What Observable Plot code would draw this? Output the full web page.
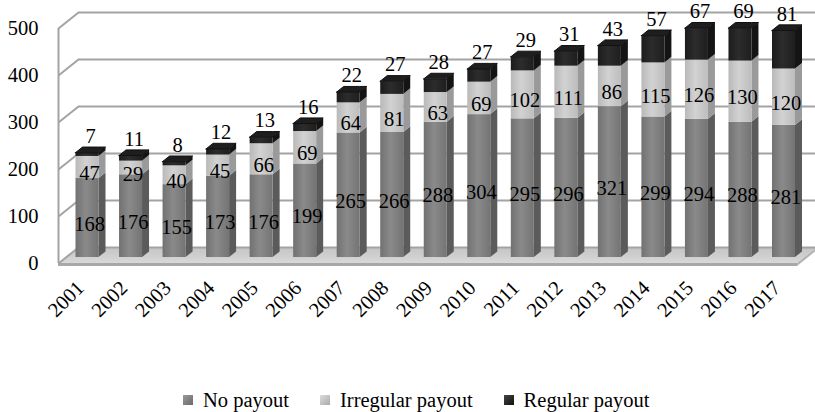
<!DOCTYPE html>
<html>
<head>
<meta charset="utf-8">
<script src="https://cdn.jsdelivr.net/npm/d3@7"></script>
<script src="https://cdn.jsdelivr.net/npm/@observablehq/plot@0.6"></script>
<style>
  html, body { margin: 0; padding: 0; background: #fff; }
  body { width: 815px; height: 412px; overflow: hidden; font-family: "Liberation Serif", "Times New Roman", serif; }
  #legend { height: 24px; line-height: 24px; font-size: 20.5px; color: #000; display: flex; align-items: center; padding-left: 183px; }
  #legend .item { display: flex; align-items: center; margin-right: 31px; }
  #legend .sw { width: 10px; height: 10px; margin-right: 10px; box-sizing: border-box; }
</style>
</head>
<body>
<div id="chart"></div>
<div id="legend"></div>
<script>
// ---- data ----
const years = [2001, 2002, 2003, 2004, 2005, 2006, 2007, 2008, 2009, 2010, 2011, 2012, 2013, 2014, 2015, 2016, 2017];
const noPayout = [168, 176, 155, 173, 176, 199, 265, 266, 288, 304, 295, 296, 321, 299, 294, 288, 281];
const irregularPayout = [47, 29, 40, 45, 66, 69, 64, 81, 63, 69, 102, 111, 86, 115, 126, 130, 120];
const regularPayout = [7, 11, 8, 12, 13, 16, 22, 27, 28, 27, 29, 31, 43, 57, 67, 69, 81];
const seriesNames = ["No payout", "Irregular payout", "Regular payout"];
const yTicks = [0, 100, 200, 300, 400, 500];

// ---- styling ----
const face = {"No payout": "url(#gNo)", "Irregular payout": "url(#gIrr)", "Regular payout": "url(#gReg)"};
const side = {"No payout": "#5b5b5b", "Irregular payout": "#9a9a9a", "Regular payout": "#141414"};

const W = 815, H = 388;
const xRange = [43.47, 827.03], xDomain = [2000, 2018];
const yRange = [257, 22], yDomain = [0, 500];
const pxX = (xRange[1] - xRange[0]) / (xDomain[1] - xDomain[0]);
const pxY = (yRange[0] - yRange[1]) / (yDomain[1] - yDomain[0]);
const px2yr = p => p / pxX;
const px2v = p => p / pxY;

const hw = px2yr(11.5);      // half width of bar face
const dX = px2yr(7);         // bar depth (x)
const dV = px2v(5.6);        // bar depth (y)
const F0 = years[0] - px2yr(29);
const F1 = years[years.length - 1] + px2yr(13.5);
const D = px2yr(20);         // wall depth (x)
const fV = px2v(-6);         // front floor level
const bV = px2v(10);         // back wall level

// build stacked segments
const values = [noPayout, irregularPayout, regularPayout];
const segs = [];
years.forEach((yr, i) => {
  let acc = 0;
  seriesNames.forEach((s, k) => {
    const v = values[k][i];
    segs.push({year: yr, series: s, value: v, y0: acc, y1: acc + v, id: yr + s});
    acc += v;
  });
});
const totals = years.map((yr, i) => ({year: yr, total: noPayout[i] + irregularPayout[i] + regularPayout[i], reg: regularPayout[i]}));

// side faces
const sidePts = segs.flatMap(d => [
  {id: d.id, series: d.series, x: d.year + hw, y1: d.y0, y2: d.y1},
  {id: d.id, series: d.series, x: d.year + hw + dX, y1: d.y0 + dV, y2: d.y1 + dV}
]);
// top caps
const capPts = totals.flatMap(d => [
  {id: d.year, x: d.year - hw, y1: d.total, y2: d.total},
  {id: d.year, x: d.year - hw + dX, y1: d.total, y2: d.total + dV},
  {id: d.year, x: d.year + hw, y1: d.total, y2: d.total + dV},
  {id: d.year, x: d.year + hw + dX, y1: d.total + dV, y2: d.total + dV}
]);
// floor
const floorPts = [
  {x: F0, y1: fV, y2: fV},
  {x: F0 + D, y1: fV, y2: bV},
  {x: F1, y1: fV, y2: bV},
  {x: F1 + D, y1: bV, y2: bV}
];
const floorEdge = [
  {x: F1, y1: fV - px2v(3), y2: fV},
  {x: F1 + D, y1: bV - px2v(3), y2: bV}
];

const marks = [
  // floor
  Plot.areaY(floorPts, {x: "x", y1: "y1", y2: "y2", fill: "url(#gFloor)", curve: "linear"}),
  Plot.rect([0], {x1: F0, x2: F1, y1: fV - px2v(3), y2: fV, fill: "#a8a8a8"}),
  Plot.areaY(floorEdge, {x: "x", y1: "y1", y2: "y2", fill: "#b4b4b4", curve: "linear"}),
  // back wall gridlines
  Plot.ruleY(yTicks, {y: d => d + bV, x1: F0 + D, x2: F1 + D, stroke: "#a3a3a3", strokeWidth: 2}),
  // left wall
  Plot.link(yTicks, {x1: F0, y1: d => d + fV, x2: F0 + D, y2: d => d + bV, stroke: "#a3a3a3", strokeWidth: 2}),
  Plot.ruleX([F0], {y1: yDomain[0] + fV, y2: yDomain[1] + fV, stroke: "#a3a3a3", strokeWidth: 2}),
];
seriesNames.forEach(s => {
  const sg = segs.filter(d => d.series === s);
  marks.push(Plot.areaY(sidePts.filter(d => d.series === s), {x: "x", y1: "y1", y2: "y2", z: "id", fill: side[s], curve: "linear"}));
  marks.push(Plot.rect(sg, {x1: d => d.year - hw, x2: d => d.year + hw, y1: "y0", y2: "y1", fill: face[s]}));
});
marks.push(Plot.areaY(capPts, {x: "x", y1: "y1", y2: "y2", z: "id", fill: "#1e1e1e", stroke: "#111", strokeWidth: 1, strokeLinejoin: "round", curve: "linear"}));
// labels
const lbl = {fill: "#000", fontSize: 20.5, fontFamily: "Liberation Serif, Times New Roman, serif"};
marks.push(Plot.text(segs.filter(d => d.series !== "Regular payout"), {x: "year", y: d => (d.y0 + d.y1) / 2, text: d => String(d.value), dx: 2, dy: 6, ...lbl}));
marks.push(Plot.text(totals, {x: "year", y: "total", text: d => String(d.reg), dx: 3, dy: -17, ...lbl}));
marks.push(Plot.text(yTicks, {x: F0, y: d => d + fV, text: d => String(d), dx: -20, textAnchor: "end", ...lbl}));
marks.push(Plot.text(years, {x: d => d, y: 0, text: d => String(d), dx: -7, dy: 27, rotate: -45, textAnchor: "end", ...lbl}));

const chart = Plot.plot({
  width: W,
  height: H,
  x: {type: "linear", domain: xDomain, range: xRange, axis: null},
  y: {type: "linear", domain: yDomain, range: yRange, axis: null},
  style: {background: "#fff", overflow: "visible", fontFamily: "Liberation Serif, Times New Roman, serif"},
  marks
});

// gradients
const NS = "http://www.w3.org/2000/svg";
const defs = document.createElementNS(NS, "defs");
function grad(id, stops, vertical) {
  const g = document.createElementNS(NS, "linearGradient");
  g.setAttribute("id", id);
  g.setAttribute("x1", "0"); g.setAttribute("y1", "0");
  g.setAttribute("x2", vertical ? "0" : "1"); g.setAttribute("y2", vertical ? "1" : "0");
  stops.forEach(([o, c]) => {
    const st = document.createElementNS(NS, "stop");
    st.setAttribute("offset", o); st.setAttribute("stop-color", c);
    g.appendChild(st);
  });
  defs.appendChild(g);
}
grad("gNo", [["0", "#727272"], ["0.45", "#8a8a8a"], ["1", "#747474"]]);
grad("gIrr", [["0", "#b9b9b9"], ["0.45", "#d2d2d2"], ["1", "#bdbdbd"]]);
grad("gReg", [["0", "#1c1c1c"], ["0.45", "#2c2c2c"], ["1", "#1e1e1e"]]);
grad("gFloor", [["0", "#c4c4c4"], ["1", "#d8d8d8"]], true);
chart.insertBefore(defs, chart.firstChild);
document.getElementById("chart").appendChild(chart);

// legend
const legendColors = {"No payout": "linear-gradient(135deg,#9a9a9a,#6a6a6a)", "Irregular payout": "linear-gradient(135deg,#dcdcdc,#aaaaaa)", "Regular payout": "linear-gradient(135deg,#444,#111)"};
const lg = document.getElementById("legend");
seriesNames.forEach(s => {
  const it = document.createElement("div"); it.className = "item";
  const sw = document.createElement("div"); sw.className = "sw"; sw.style.background = legendColors[s];
  const tx = document.createElement("span"); tx.textContent = s;
  it.appendChild(sw); it.appendChild(tx); lg.appendChild(it);
});
</script>
</body>
</html>
